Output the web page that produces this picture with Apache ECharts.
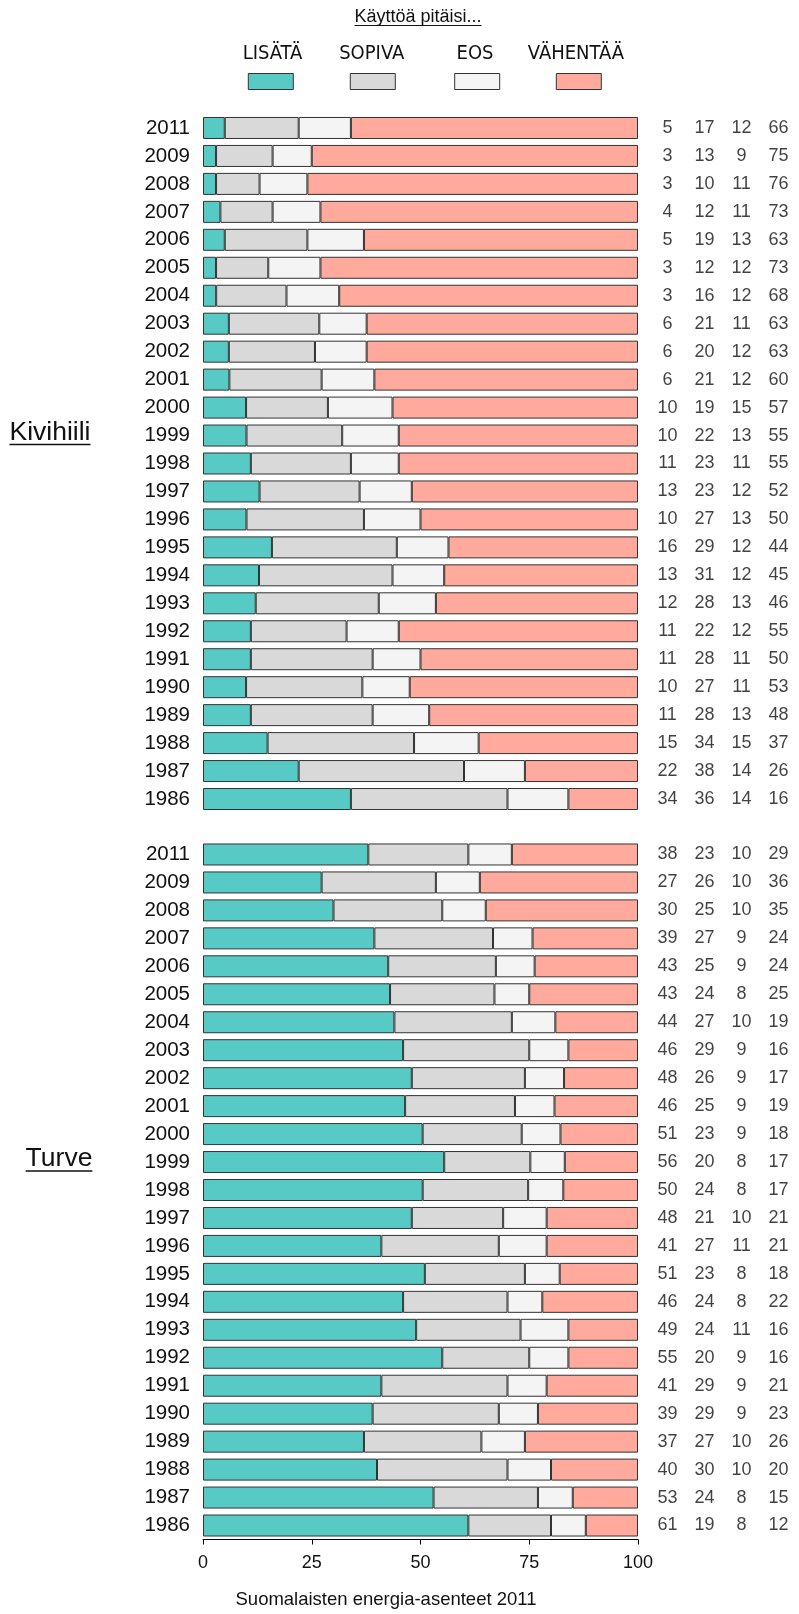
<!DOCTYPE html>
<html><head><meta charset="utf-8">
<script src="https://cdn.jsdelivr.net/npm/echarts@6/dist/echarts.min.js"></script>
<style>html,body{margin:0;padding:0;background:#fff}#c{width:799px;height:1614px}</style>
</head><body><div id="c"></div>
<script>
const years = ['2011','2009','2008','2007','2006','2005','2004','2003','2002','2001','2000','1999','1998','1997','1996','1995','1994','1993','1992','1991','1990','1989','1988','1987','1986'];
const seriesNames = ['LISÄTÄ','SOPIVA','EOS','VÄHENTÄÄ'];
const colors = ['#57CAC5','#D9D9D9','#F4F4F4','#FFAA9C'];
const panelNames = ['Kivihiili','Turve'];
const titleText = 'Käyttöä pitäisi...';
const captionText = 'Suomalaisten energia-asenteet 2011';
const xTicks = [0,25,50,75,100];

// Kivihiili
const kiviLisata   = [5,3,3,4,5,3,3,6,6,6,10,10,11,13,10,16,13,12,11,11,10,11,15,22,34];
const kiviSopiva   = [17,13,10,12,19,12,16,21,20,21,19,22,23,23,27,29,31,28,22,28,27,28,34,38,36];
const kiviEos      = [12,9,11,11,13,12,12,11,12,12,15,13,11,12,13,12,12,13,12,11,11,13,15,14,14];
const kiviVahentaa = [66,75,76,73,63,73,68,63,63,60,57,55,55,52,50,44,45,46,55,50,53,48,37,26,16];
// Turve
const turveLisata   = [38,27,30,39,43,43,44,46,48,46,51,56,50,48,41,51,46,49,55,41,39,37,40,53,61];
const turveSopiva   = [23,26,25,27,25,24,27,29,26,25,23,20,24,21,27,23,24,24,20,29,29,27,30,24,19];
const turveEos      = [10,10,10,9,9,8,10,9,9,9,9,8,8,10,11,8,8,11,9,9,9,10,10,8,8];
const turveVahentaa = [29,36,35,24,24,25,19,16,17,19,18,17,17,21,21,18,22,16,16,21,23,26,20,15,12];

const panels = [
  [kiviLisata, kiviSopiva, kiviEos, kiviVahentaa],
  [turveLisata, turveSopiva, turveEos, turveVahentaa]
];

const FONT = '"Liberation Sans", Arial, Helvetica, sans-serif';
const NARROW = '"Liberation Sans Narrow", "DejaVu Sans Condensed", "Liberation Sans", sans-serif';
const gridTops = [114, 840.5];
const gridH = 699;

const grid = [], xAxis = [], yAxis = [], series = [];
panels.forEach((p, pi) => {
  grid.push({left: 203, width: 435, top: gridTops[pi], height: gridH});
  xAxis.push({
    type: 'value', gridIndex: grid.length - 1, min: 0, max: 100, interval: 25,
    show: pi === 1,
    axisLine: {show: true, lineStyle: {color: '#000', width: 1}},
    axisTick: {show: true, length: 5, lineStyle: {color: '#000'}},
    splitLine: {show: false},
    axisLabel: {fontFamily: FONT, fontSize: 18, color: '#111', margin: 15}
  });
  yAxis.push({
    type: 'category', gridIndex: grid.length - 1, data: years, inverse: true,
    axisLine: {show: false}, axisTick: {show: false},
    axisLabel: {fontFamily: FONT, fontSize: 20.5, color: '#111', margin: 13}
  });
  const bi = grid.length - 1;
  const sums = years.map((y, i) => p.reduce((s, arr) => s + arr[i], 0));
  p.forEach((arr, si) => {
    series.push({
      type: 'bar', name: seriesNames[si], xAxisIndex: bi, yAxisIndex: bi,
      stack: 'p' + pi, barWidth: 22,
      itemStyle: {color: colors[si], borderColor: '#333', borderWidth: 1},
      data: arr.map((v, i) => v / sums[i] * 100),
      silent: true, animation: false
    });
  });
  grid.push({left: 649, width: 148, top: gridTops[pi], height: gridH});
  const ni = grid.length - 1;
  xAxis.push({type: 'category', gridIndex: ni, data: seriesNames, show: false});
  yAxis.push({type: 'category', gridIndex: ni, data: years, inverse: true, show: false});
  const pts = [];
  p.forEach((arr, si) => arr.forEach((v, i) => pts.push([si, i, v])));
  series.push({
    type: 'scatter', xAxisIndex: ni, yAxisIndex: ni, symbolSize: 1,
    itemStyle: {color: 'rgba(0,0,0,0)'},
    label: {show: true, position: 'inside', formatter: d => String(d.value[2]),
      fontFamily: FONT, fontSize: 18, color: '#111'},
    data: pts, silent: true, animation: false
  });
});

const mc = document.createElement('canvas').getContext('2d');
function tw(t, font) { mc.font = font; return mc.measureText(t).width; }

const graphic = [];
const titleFont = '18px ' + FONT;
graphic.push({type: 'text', style: {text: titleText, x: 418, y: 17, font: titleFont, fill: '#111', textAlign: 'center', textVerticalAlign: 'middle'}});
const tW = tw(titleText, titleFont);
graphic.push({type: 'line', shape: {x1: 418 - tW / 2, y1: 25.5, x2: 418 + tW / 2, y2: 25.5}, style: {stroke: '#111', lineWidth: 1.2}});
const legTextX = [272.5, 371.7, 475, 576];
const legBoxX = [270.8, 372.8, 477.2, 578.8];
seriesNames.forEach((n, i) => {
  graphic.push({type: 'text', style: {text: n, x: legTextX[i], y: 54, font: '20px ' + NARROW, fill: '#111', textAlign: 'center', textVerticalAlign: 'middle'}});
  graphic.push({type: 'rect', shape: {x: legBoxX[i] - 22.5, y: 73.5, width: 45, height: 16}, style: {fill: colors[i], stroke: '#333', lineWidth: 1}});
});
const panelX = [50, 59];
const panelY = [432.5, 432.5 + (gridTops[1] - gridTops[0])];
const pFont = '26.5px ' + FONT;
panelNames.forEach((n, i) => {
  graphic.push({type: 'text', style: {text: n, x: panelX[i], y: panelY[i], font: pFont, fill: '#111', textAlign: 'center', textVerticalAlign: 'middle'}});
  const w = tw(n, pFont);
  graphic.push({type: 'line', shape: {x1: panelX[i] - w / 2, y1: panelY[i] + 12, x2: panelX[i] + w / 2, y2: panelY[i] + 12}, style: {stroke: '#111', lineWidth: 1.5}});
});
graphic.push({type: 'text', style: {text: captionText, x: 386, y: 1600, font: '18.5px ' + FONT, fill: '#111', textAlign: 'center', textVerticalAlign: 'middle'}});

const chart = echarts.init(document.getElementById('c'), null, {renderer: 'canvas'});
chart.setOption({animation: false, grid, xAxis, yAxis, series, graphic});
</script></body></html>
